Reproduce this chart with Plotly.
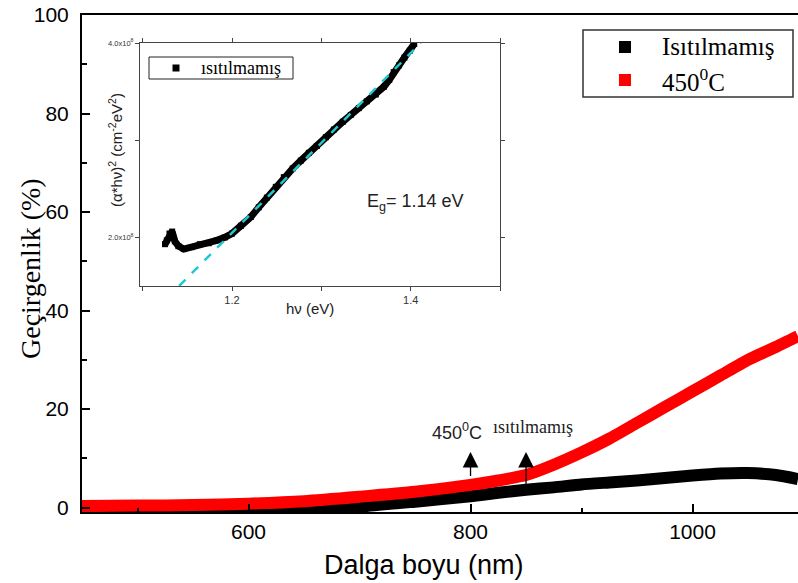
import plotly.graph_objects as go

# Transmittance spectra (%), unheated and annealed at 450 °C
wavelength = [450, 500, 550, 600, 650, 700, 750, 800, 825, 850, 875, 900, 925, 950,
              975, 1000, 1025, 1050, 1075, 1095]
trans_unheated = [-0.6, -0.6, -0.5, -0.5, -0.3, 0.2, 1.2, 2.3, 3.0, 3.6, 4.1, 4.7, 5.1, 5.5,
                  6.0, 6.5, 6.9, 7.0, 6.6, 5.8]
trans_450 = [0.3, 0.4, 0.5, 0.8, 1.3, 2.2, 3.2, 4.6, 5.5, 6.6, 8.7, 11.2, 14.0, 17.2,
             20.4, 23.6, 26.8, 30.0, 32.6, 34.8]

# Tauc plot of the unheated film: (alpha*h*nu)^2 versus photon energy
photon_energy = [1.125, 1.127, 1.130, 1.133, 1.136, 1.140, 1.146, 1.155, 1.164, 1.174, 1.183,
                 1.192, 1.200, 1.210, 1.221, 1.230, 1.239, 1.249, 1.258, 1.268, 1.277, 1.286,
                 1.295, 1.305, 1.314, 1.324, 1.333, 1.342, 1.351, 1.361, 1.370, 1.376, 1.381,
                 1.387, 1.393, 1.399, 1.404]
tauc_values = [1.93e8, 1.97e8, 2.04e8, 2.06e8, 1.96e8, 1.91e8, 1.88e8, 1.90e8, 1.93e8, 1.94e8, 1.97e8,
               2.00e8, 2.04e8, 2.12e8, 2.21e8, 2.31e8, 2.41e8, 2.52e8, 2.62e8, 2.71e8, 2.79e8, 2.87e8,
               2.94e8, 3.03e8, 3.11e8, 3.19e8, 3.26e8, 3.33e8, 3.40e8, 3.47e8, 3.55e8, 3.62e8, 3.70e8,
               3.77e8, 3.85e8, 3.92e8, 3.99e8]

# Linear fit through the absorption edge
fit_energy = [1.1408, 1.4112]
fit_values = [1.5e8, 4.0e8]

series_names = ["Isıtılmamış", "450<sup>0</sup>C"]
series_colors = ["#000000", "#ff0000"]
inset_name = "ısıtılmamış"

serif = "Liberation Serif"
sans = "Liberation Sans"

# Plot area in pixels (left, right, top, bottom) for converting to paper coords
PL, PR, PT, PB = 82, 798, 15, 512


def px(xp):
    return (xp - PL) / (PR - PL)


def py(yp):
    return (PB - yp) / (PB - PT)


fig = go.Figure()

for y_vals, color in [(trans_unheated, series_colors[0]), (trans_450, series_colors[1])]:
    fig.add_trace(go.Scatter(
        x=wavelength, y=y_vals, mode="lines",
        line=dict(color=color, width=12, shape="spline", smoothing=0.6),
        showlegend=False, hoverinfo="skip"))

# Inset: Tauc plot
fig.add_trace(go.Scatter(
    x=photon_energy, y=tauc_values, mode="lines+markers",
    line=dict(color="black", width=7),
    marker=dict(symbol="square", size=6, color="black"),
    xaxis="x2", yaxis="y2", showlegend=False))
fig.add_trace(go.Scatter(
    x=fit_energy, y=fit_values, mode="lines",
    line=dict(color="#20c8d0", width=2.5, dash="dash"),
    xaxis="x2", yaxis="y2", showlegend=False))

shapes = []
annotations = []

# Main legend box
shapes.append(dict(type="rect", xref="paper", yref="paper",
                   x0=px(583), x1=px(793), y0=py(97), y1=py(30),
                   line=dict(color="#333", width=1.5), fillcolor="white", layer="above"))
for i, (name, color) in enumerate(zip(series_names, series_colors)):
    yc = 47 + 33 * i
    shapes.append(dict(type="rect", xref="paper", yref="paper",
                       x0=px(619), x1=px(631), y0=py(yc + 6), y1=py(yc - 6),
                       line=dict(width=0), fillcolor=color, layer="above"))
    annotations.append(dict(text=name, x=px(660), y=py(yc), xref="paper", yref="paper",
                            xanchor="left", yanchor="middle", showarrow=False,
                            font=dict(family=serif, size=25, color="black")))

# Inset legend box
shapes.append(dict(type="rect", xref="paper", yref="paper",
                   x0=px(149), x1=px(293), y0=py(79), y1=py(57),
                   line=dict(color="#222", width=1), fillcolor="white", layer="above"))
shapes.append(dict(type="rect", xref="paper", yref="paper",
                   x0=px(172.5), x1=px(179.5), y0=py(71.5), y1=py(64.5),
                   line=dict(width=0), fillcolor="black", layer="above"))
annotations.append(dict(text=inset_name, x=px(199), y=py(68), xref="paper", yref="paper",
                        xanchor="left", yanchor="middle", showarrow=False,
                        font=dict(family=serif, size=18, color="black")))

# Axis titles
annotations += [
    dict(text="Dalga boyu (nm)", x=px(424), y=py(565), xref="paper", yref="paper",
         xanchor="center", yanchor="middle", showarrow=False,
         font=dict(family=sans, size=27, color="black")),
    dict(text="Geçirgenlik (%)", x=px(30), y=py(268), xref="paper", yref="paper",
         xanchor="center", yanchor="middle", showarrow=False, textangle=-90,
         font=dict(family=serif, size=28, color="black")),
    dict(text="hν (eV)", x=px(310), y=py(308), xref="paper", yref="paper",
         xanchor="center", yanchor="middle", showarrow=False,
         font=dict(family=sans, size=15, color="#222")),
    dict(text="(α*hν)<sup>2</sup> (cm<sup>-2</sup>eV<sup>2</sup>)", x=px(115), y=py(150),
         xref="paper", yref="paper", xanchor="center", yanchor="middle",
         showarrow=False, textangle=-90,
         font=dict(family=sans, size=15, color="#222")),
]

# Labels inside the plots
annotations += [
    dict(text="E<sub>g</sub>= 1.14 eV", x=1.405, y=2.36e8, xref="x2", yref="y2",
         showarrow=False, font=dict(family=sans, size=18, color="#222")),
    dict(text="450<sup>0</sup>C", x=788, y=15.4, xref="x", yref="y",
         showarrow=False, font=dict(family=sans, size=18, color="#222")),
    dict(text="ısıtılmamış", x=856, y=16.4, xref="x", yref="y",
         showarrow=False, font=dict(family=serif, size=18, color="#222")),
    dict(x=800, y=11.3, ax=800, ay=6.1, xref="x", yref="y", axref="x", ayref="y",
         text="", showarrow=True, arrowhead=2, arrowsize=2.4, arrowwidth=1.3,
         arrowcolor="black"),
    dict(x=850, y=11.3, ax=850, ay=4.0, xref="x", yref="y", axref="x", ayref="y",
         text="", showarrow=True, arrowhead=2, arrowsize=2.4, arrowwidth=1.3,
         arrowcolor="black"),
]

fig.update_layout(
    width=798, height=583,
    margin=dict(l=PL, r=798 - PR, t=PT, b=583 - PB),
    paper_bgcolor="white", plot_bgcolor="white",
    showlegend=False,
    xaxis=dict(
        range=[450, 1095], tick0=0, dtick=200,
        ticks="inside", ticklen=8, tickwidth=1.5, tickcolor="black",
        minor=dict(dtick=100, ticks="inside", ticklen=4, tickwidth=1.5, tickcolor="black"),
        showline=True, linecolor="black", linewidth=2, mirror=True,
        showgrid=False, zeroline=False,
        tickfont=dict(family=sans, size=21, color="black")),
    yaxis=dict(
        range=[-0.9, 100], tick0=0, dtick=20,
        ticks="inside", ticklen=8, tickwidth=1.5, tickcolor="black",
        minor=dict(dtick=10, ticks="inside", ticklen=5, tickwidth=1.5, tickcolor="black"),
        showline=True, linecolor="black", linewidth=2,
        showgrid=False, zeroline=False, ticklabelstandoff=7,
        tickfont=dict(family=sans, size=21, color="black")),
    xaxis2=dict(
        domain=[px(140), px(500)], anchor="y2", range=[1.097, 1.5],
        tickvals=[1.2, 1.4], ticktext=["1.2", "1.4"],
        ticks="outside", ticklen=4, tickcolor="#444",
        minor=dict(dtick=0.1, ticks="outside", ticklen=4, tickcolor="#444"),
        showline=True, linecolor="#444", linewidth=1, mirror="ticks",
        showgrid=False, zeroline=False,
        tickfont=dict(family=sans, size=11, color="#333")),
    yaxis2=dict(
        domain=[py(286), py(43)], anchor="x2", range=[1.5e8, 4.0e8],
        tickvals=[2e8, 3e8, 4e8], ticktext=["2.0x10<sup>8</sup>", "", "4.0x10<sup>8</sup>"],
        ticks="outside", ticklen=4, tickcolor="#444",
        showline=True, linecolor="#444", linewidth=1, mirror="ticks",
        showgrid=False, zeroline=False,
        tickfont=dict(family=sans, size=7.5, color="#333")),
    shapes=shapes,
    annotations=annotations,
)

fig.write_html("out.html")
